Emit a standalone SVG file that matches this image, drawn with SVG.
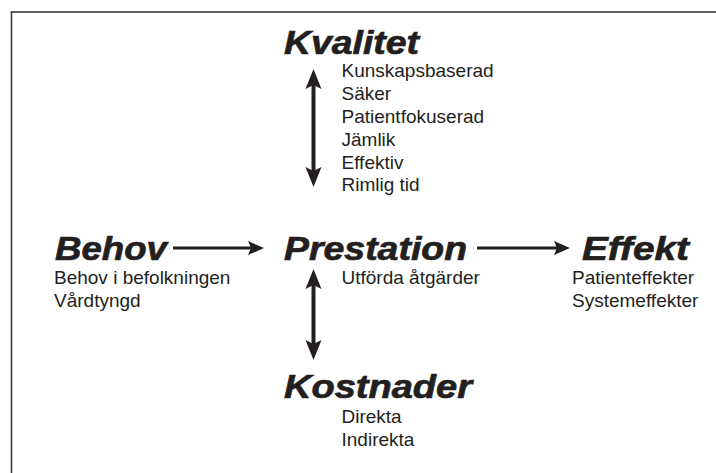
<svg xmlns="http://www.w3.org/2000/svg" width="716" height="473" viewBox="0 0 716 473">
  <style>
    .h { font-family: "Liberation Sans", Arial, sans-serif; font-weight: bold; font-style: italic; font-size: 34px; fill: #231f20; stroke: #231f20; stroke-width: 0.7; }
    .t { font-family: "Liberation Sans", Arial, sans-serif; font-size: 19px; fill: #231f20; }
    .shaft { stroke: #231f20; fill: none; stroke-linecap: butt; }
    .v { stroke-width: 4; }
    .hz { stroke-width: 3.2; }
  </style>
  <defs>
    <marker id="headV" markerUnits="userSpaceOnUse" viewBox="-14 -10 24 20" markerWidth="24" markerHeight="20" refX="0" refY="0" orient="auto-start-reverse">
      <path d="M8,0 L-12,-8 L-8,0 L-12,8 Z" fill="#231f20"/>
    </marker>
    <marker id="headH" markerUnits="userSpaceOnUse" viewBox="-12 -9 20 18" markerWidth="20" markerHeight="18" refX="0" refY="0" orient="auto-start-reverse">
      <path d="M6,0 L-10,-7 L-7,0 L-10,7 Z" fill="#231f20"/>
    </marker>
  </defs>
  <rect x="0" y="0" width="716" height="473" fill="#ffffff"/>
  <rect x="11.5" y="12" width="800" height="600" fill="none" stroke="#3a3a3a" stroke-width="1.6"/>

  <g id="connectors">
    <line class="shaft v" x1="313.5" y1="77" x2="313.5" y2="179" marker-start="url(#headV)" marker-end="url(#headV)"/>
    <line class="shaft v" x1="313.5" y1="277" x2="313.5" y2="352" marker-start="url(#headV)" marker-end="url(#headV)"/>
    <line class="shaft hz" x1="173" y1="248" x2="258" y2="248" marker-end="url(#headH)"/>
    <line class="shaft hz" x1="477" y1="248" x2="564" y2="248" marker-end="url(#headH)"/>
  </g>

  <g id="kvalitet">
    <text class="h" x="284" y="53.5" textLength="135" lengthAdjust="spacingAndGlyphs">Kvalitet</text>
    <text class="t" x="341.5" y="77.3">Kunskapsbaserad</text>
    <text class="t" x="341.5" y="100.1">Säker</text>
    <text class="t" x="341.5" y="122.9">Patientfokuserad</text>
    <text class="t" x="341.5" y="145.7">Jämlik</text>
    <text class="t" x="341.5" y="168.5">Effektiv</text>
    <text class="t" x="341.5" y="191.3">Rimlig tid</text>
  </g>

  <g id="behov">
    <text class="h" x="55" y="260" textLength="112" lengthAdjust="spacingAndGlyphs">Behov</text>
    <text class="t" x="54" y="284.4">Behov i befolkningen</text>
    <text class="t" x="54" y="307.2">Vårdtyngd</text>
  </g>

  <g id="prestation">
    <text class="h" x="284" y="260" textLength="183" lengthAdjust="spacingAndGlyphs">Prestation</text>
    <text class="t" x="341.5" y="284.4">Utförda åtgärder</text>
  </g>

  <g id="effekt">
    <text class="h" x="582" y="260" textLength="107" lengthAdjust="spacingAndGlyphs">Effekt</text>
    <text class="t" x="572" y="284.4">Patienteffekter</text>
    <text class="t" x="572" y="307.2">Systemeffekter</text>
  </g>

  <g id="kostnader">
    <text class="h" x="284" y="398.3" textLength="188" lengthAdjust="spacingAndGlyphs">Kostnader</text>
    <text class="t" x="341.5" y="422.7">Direkta</text>
    <text class="t" x="341.5" y="445.5">Indirekta</text>
  </g>
</svg>
